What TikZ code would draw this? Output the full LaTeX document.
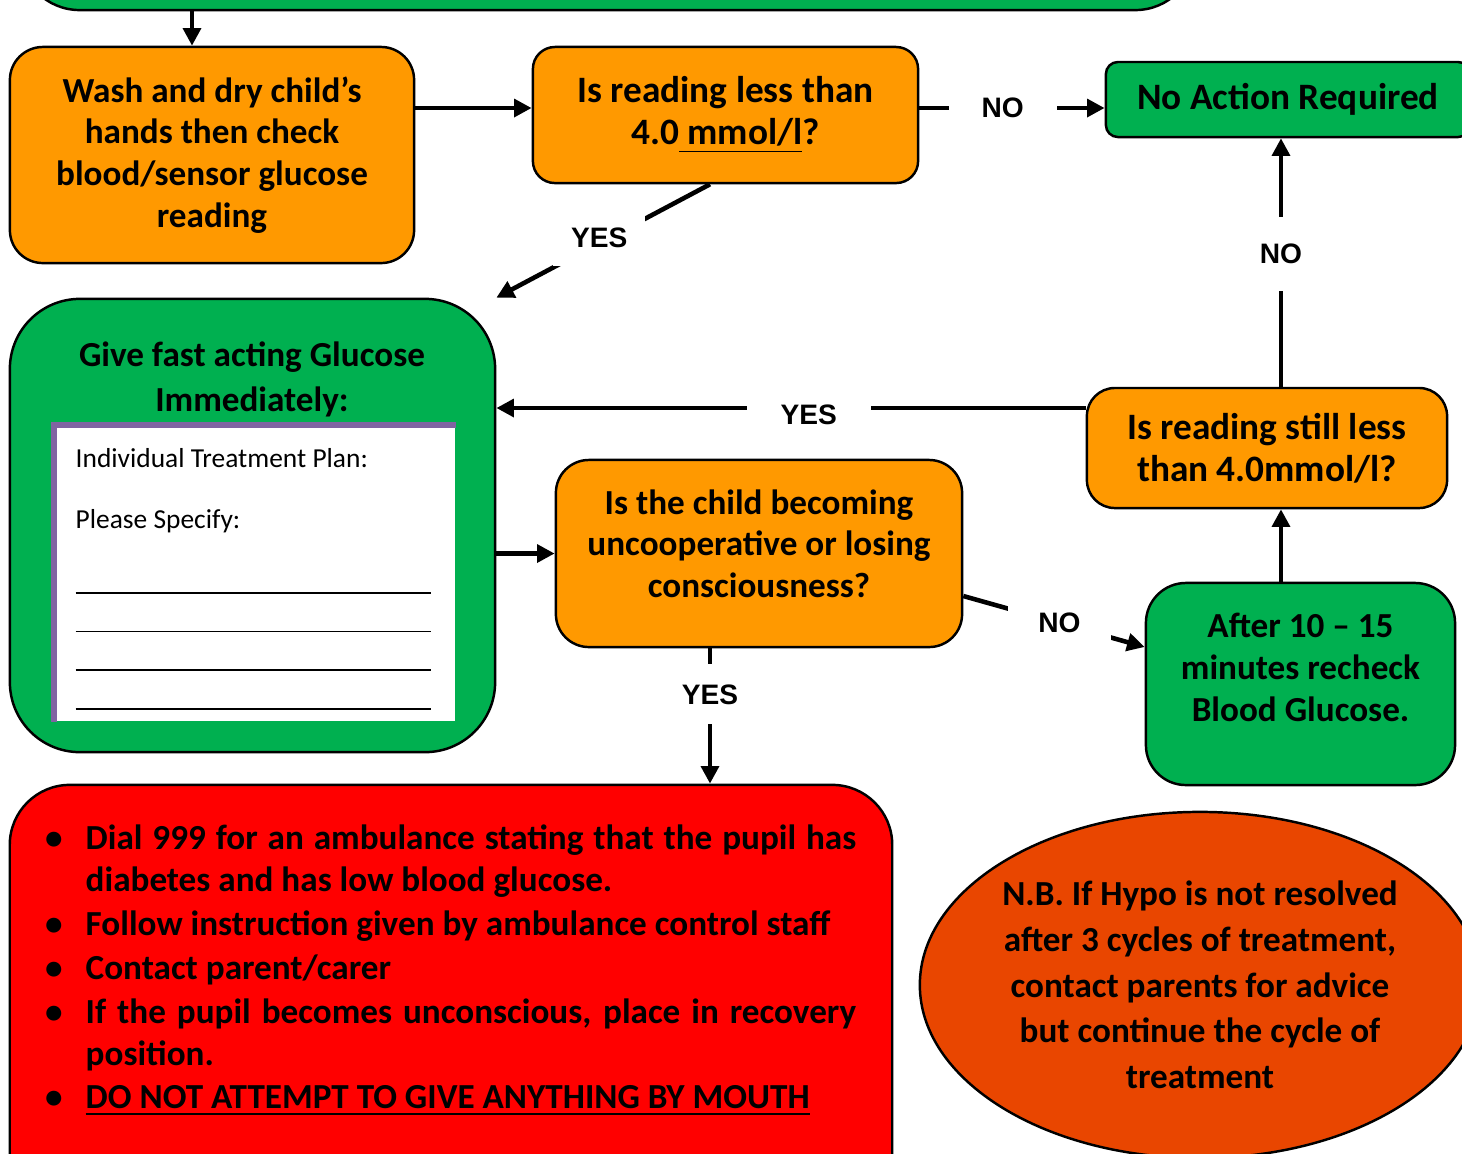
\documentclass[tikz,border=0pt]{standalone}
\usepackage{fontspec}
\setmainfont{Carlito}
\newfontfamily\answerfamily{Liberation Sans}
\usetikzlibrary{arrows.meta,shapes.geometric}
\definecolor{amber}{RGB}{255,153,0}
\definecolor{leaf}{RGB}{0,176,80}
\definecolor{alarm}{RGB}{255,0,0}
\definecolor{ember}{RGB}{233,70,0}
\definecolor{lilac}{RGB}{128,100,162}
\tikzset{flow/.style={line width=1.3pt,-{Triangle[length=5pt,width=5pt]}}}
\tikzset{answer/.style={fill=white,font=\answerfamily\bfseries\fontsize{8}{9.6}\selectfont}}
\tikzset{card/.style={draw,line width=0.7pt,align=center,font=\bfseries\fontsize{10}{11.9}\selectfont}}
\tikzset{bigger/.style={font=\bfseries\fontsize{10.6}{11.9}\selectfont}}
\tikzset{decision/.style={card,fill=amber}}
\tikzset{action/.style={card,fill=leaf}}
\newenvironment{todo}{\begin{list}{\textbullet}{\setlength{\leftmargin}{0.45cm}\setlength{\labelwidth}{0.2cm}\setlength{\labelsep}{0.23cm}\setlength{\itemsep}{0.6pt}\setlength{\parsep}{0pt}\setlength{\topsep}{0pt}}}{\end{list}}

\begin{document}
\begin{tikzpicture}[x=0.01cm,y=-0.01cm]
  \useasboundingbox (0,0) rectangle (1462,1153);
  \clip (0,0) rectangle (1462,1153);
  \node[action,minimum width=11.75cm,minimum height=2.1cm,rounded corners=0.6cm] (start) at (607.5,-95) {};
  \node[decision,minimum width=4.04cm,minimum height=2.16cm,rounded corners=0.33cm] (wash) at (212,155) {Wash and dry child’s\\hands then check\\blood/sensor glucose\\reading};
  \node[decision,bigger,minimum width=3.85cm,minimum height=1.36cm,rounded corners=0.22cm] (less) at (725.5,115) {Is reading less than\\4.0\underline{\ mmol/l}?};
  \node[action,bigger,minimum width=3.64cm,minimum height=0.75cm,rounded corners=0.12cm] (noaction) at (1288,99.5) {No Action Required};
  \node[action,minimum width=4.85cm,minimum height=4.53cm,rounded corners=0.7cm] (give) at (252.5,525.5) {};
  \node[align=center,font=\bfseries\fontsize{10}{12.8}\selectfont] (givetitle) at (252,379) {Give fast acting Glucose\\Immediately:};
  \node[fill=white,minimum width=4.03cm,minimum height=2.98cm,inner sep=0pt] (plan) at (253.5,572) {};
  \draw[line width=1.6pt,lilac] ([xshift=0.8pt]plan.south west) |- ([yshift=-0.8pt]plan.north east);
  \node[anchor=north west,align=left,inner sep=0pt,font=\fontsize{7.8}{11}\selectfont] (form) at (75,448) {Individual Treatment Plan:\\[6.3pt]Please Specify:\\[7.5pt]\rule{3.55cm}{0.5pt}\\\rule{3.55cm}{0.5pt}\\\rule{3.55cm}{0.5pt}\\\rule{3.55cm}{0.5pt}};
  \node[decision,minimum width=4.06cm,minimum height=1.87cm,rounded corners=0.33cm,text depth=0.2cm] (child) at (759,553.5) {Is the child becoming\\uncooperative or losing\\consciousness?};
  \node[decision,bigger,minimum width=3.6cm,minimum height=1.2cm,rounded corners=0.28cm] (still) at (1267,448) {Is reading still less\\than 4.0mmol/l?};
  \node[action,minimum width=3.09cm,minimum height=2.02cm,rounded corners=0.4cm,text depth=0.34cm] (after) at (1300.5,684) {After 10 – 15\\minutes recheck\\Blood Glucose.};
  \node[draw,line width=0.7pt,fill=alarm,minimum width=8.82cm,minimum height=4.3cm,rounded corners=0.6cm] (danger) at (451,1000) {};
  \node[anchor=north west,inner sep=0pt,font=\bfseries\fontsize{10}{11.9}\selectfont] (steps) at (40,824) {\begin{minipage}{8.15cm}\begin{todo}
    \item Dial 999 for an ambulance stating that the pupil has\linebreak diabetes and has low blood glucose.
    \item Follow instruction given by ambulance control staff
    \item Contact parent/carer
    \item If the pupil becomes unconscious, place in recovery\linebreak position.
    \item \underline{DO NOT ATTEMPT TO GIVE ANYTHING BY MOUTH}
  \end{todo}\end{minipage}};
  \node[ellipse,draw,line width=0.7pt,fill=ember,minimum width=5.6cm,minimum height=3.46cm,inner sep=0pt,align=center,font=\bfseries\fontsize{10}{13}\selectfont] (note) at (1200,985) {N.B. If Hypo is not resolved\\after 3 cycles of treatment,\\contact parents for advice\\but continue the cycle of\\treatment};
  \coordinate (drop) at (192,0);
  \coordinate (row) at (0,108);
  \coordinate (spine) at (1281,0);
  \coordinate (back) at (0,408);
  \coordinate (fall) at (710,0);
  \draw[flow] (start.south -| drop) -- (wash.north -| drop);
  \draw[flow] (wash.east |- row) -- (less.west |- row);
  \draw[flow] (less.east |- row) -- node[answer,pos=0.45,inner xsep=0.33cm]{NO} (noaction.west |- row);
  \draw[flow] ([xshift=-1.55mm]less.south) -- node[answer,inner sep=0.18cm,xshift=-0.04cm,yshift=0.03cm]{YES} (give.north east);
  \draw[flow] (still.north -| spine) -- node[answer,pos=0.534,inner ysep=0.27cm]{NO} (noaction.south -| spine);
  \draw[flow] (after.north -| spine) -- (still.south -| spine);
  \draw[flow] (still.west |- back) -- node[answer,pos=0.47,inner xsep=0.34cm,yshift=-0.07cm]{YES} (give.east |- back);
  \draw[flow] (give.east |- child.west) -- (child.west);
  \draw[flow] ([yshift=-4.25mm]child.east) -- node[answer,pos=0.53,inner xsep=0.3cm,inner ysep=0.1cm]{NO} ([yshift=3.7mm]after.west);
  \draw[flow] (child.south -| fall) -- node[answer,pos=0.34,inner ysep=0.2cm]{YES} (danger.north -| fall);
\end{tikzpicture}
\end{document}
